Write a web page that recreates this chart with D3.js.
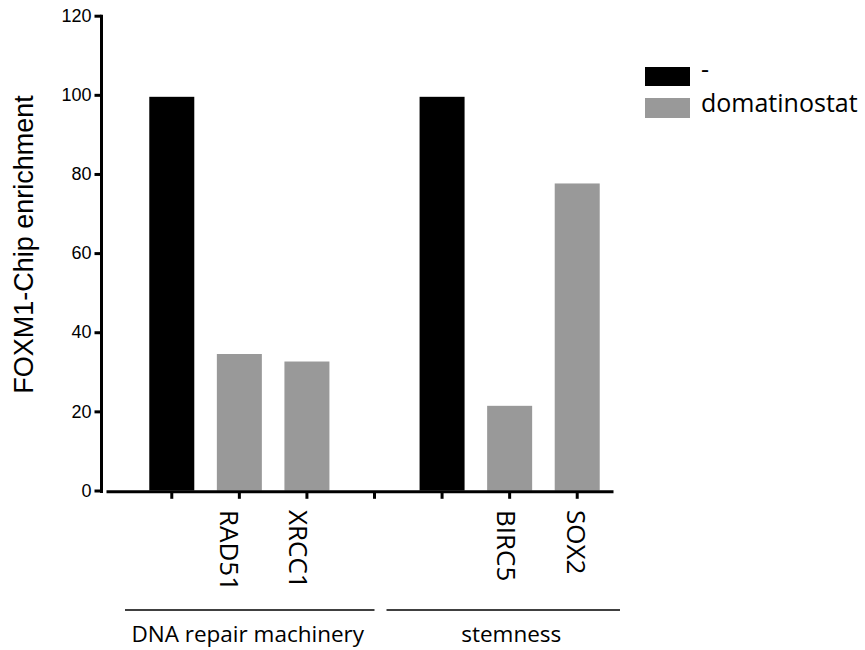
<!DOCTYPE html>
<html>
<head>
<meta charset="utf-8">
<script src="https://cdn.jsdelivr.net/npm/d3@7"></script>
<style>
  html, body { margin: 0; padding: 0; background: #fff; }
  svg { display: block; }
</style>
</head>
<body>
<svg id="chart" width="865" height="650"></svg>
<script>
// ---- data ----
const categories = ["c0", "c1", "c2", "c3", "c4", "c5", "c6"];
const categoryLabels = ["", "RAD51", "XRCC1", "", "", "BIRC5", "SOX2"];
const categorySeries = ["-", "domatinostat", "domatinostat", null, "-", "domatinostat", "domatinostat"];
const values = [99.5, 34.5, 32.6, null, 99.5, 21.4, 77.6];
const seriesNames = ["-", "domatinostat"];
const seriesColors = ["#000000", "#999999"];
const yTicks = [0, 20, 40, 60, 80, 100, 120];
const groups = ["DNA repair machinery", "stemness"];
const yTitle = "FOXM1-Chip enrichment";

// ---- layout ----
const svg = d3.select("#chart");
const x = d3.scaleBand().domain(categories).range([138, 611]).paddingInner(0.334).paddingOuter(0.167);
const y = d3.scaleLinear().domain([0, 120]).range([490.5, 15.7]);
const color = d3.scaleOrdinal().domain(seriesNames).range(seriesColors);
const cx = c => x(c) + x.bandwidth() / 2;

// bars
const rows = categories.map((c, i) => ({c, v: values[i], s: categorySeries[i]})).filter(d => d.v != null);
svg.append("g").selectAll("rect").data(rows).join("rect")
  .attr("x", d => x(d.c))
  .attr("width", x.bandwidth())
  .attr("y", d => y(d.v))
  .attr("height", d => y(0) - y(d.v))
  .attr("fill", d => color(d.s));

// y axis
const yAxis = svg.append("g").attr("transform", "translate(101.5,0)")
  .call(d3.axisLeft(y).tickValues(yTicks).tickSize(7).tickPadding(3).tickSizeOuter(0));
yAxis.select(".domain").attr("stroke", "#000").attr("stroke-width", 3)
  .attr("d", `M0,${y(120) - 1}V${y(0) + 2.5}`);
yAxis.selectAll(".tick line").attr("stroke", "#000").attr("stroke-width", 3);
yAxis.selectAll(".tick text")
  .attr("font-family", "'Liberation Sans', Arial, sans-serif")
  .attr("font-size", 18).attr("fill", "#000");

// x axis
const xAxis = svg.append("g").attr("transform", "translate(0,491.8)")
  .call(d3.axisBottom(x).tickSize(7).tickFormat(""));
xAxis.select(".domain").attr("stroke", "#000").attr("stroke-width", 3)
  .attr("d", "M106.5,0H613.5");
xAxis.selectAll(".tick line").attr("stroke", "#000").attr("stroke-width", 3);

// category labels (rotated)
const labelOffset = [0, -10, -9, 0, 0, -3, -1];
svg.append("g").selectAll("text").data(categories.map((c, i) => ({c, i, t: categoryLabels[i]})).filter(d => d.t))
  .join("text")
  .attr("transform", d => `translate(${cx(d.c) + labelOffset[d.i]},510) rotate(90)`)
  .attr("dy", "0.36em")
  .attr("text-anchor", "start")
  .attr("font-family", "'Open Sans', sans-serif")
  .attr("font-size", 26)
  .attr("fill", "#000")
  .text(d => d.t);

// group brackets
const mid = cx("c3");
const groupSpans = [
  [x.range()[0] - 13, mid],
  [mid + 12, x.range()[1] + 9]
];
const gg = svg.append("g");
groups.forEach((g, i) => {
  const [a, b] = groupSpans[i];
  gg.append("line").attr("x1", a).attr("x2", b).attr("y1", 610).attr("y2", 610)
    .attr("stroke", "#000").attr("stroke-width", 1.5);
  gg.append("text").attr("x", (a + b) / 2 + (i === 0 ? -2 : 8)).attr("y", 641.5)
    .attr("text-anchor", "middle")
    .attr("font-family", "'Open Sans', sans-serif")
    .attr("font-size", 22.5).attr("fill", "#000")
    .text(g);
});

// y title
svg.append("text")
  .attr("transform", "translate(32.5,244.5) rotate(-90)")
  .attr("text-anchor", "middle")
  .attr("font-family", "'Liberation Sans', Arial, sans-serif")
  .attr("font-size", 27).attr("fill", "#000")
  .text(yTitle);

// legend
const legendY = [67, 98];
const leg = svg.append("g");
seriesNames.forEach((s, i) => {
  leg.append("rect").attr("x", 645).attr("y", legendY[i]).attr("width", 45).attr("height", i === 0 ? 19 : 20)
    .attr("fill", color(s));
  leg.append("text").attr("x", 701).attr("y", legendY[i] + (i === 0 ? 11 : 14))
    .attr("font-family", "'Open Sans', sans-serif")
    .attr("font-size", 25).attr("fill", "#000")
    .text(s);
});
</script>
</body>
</html>
